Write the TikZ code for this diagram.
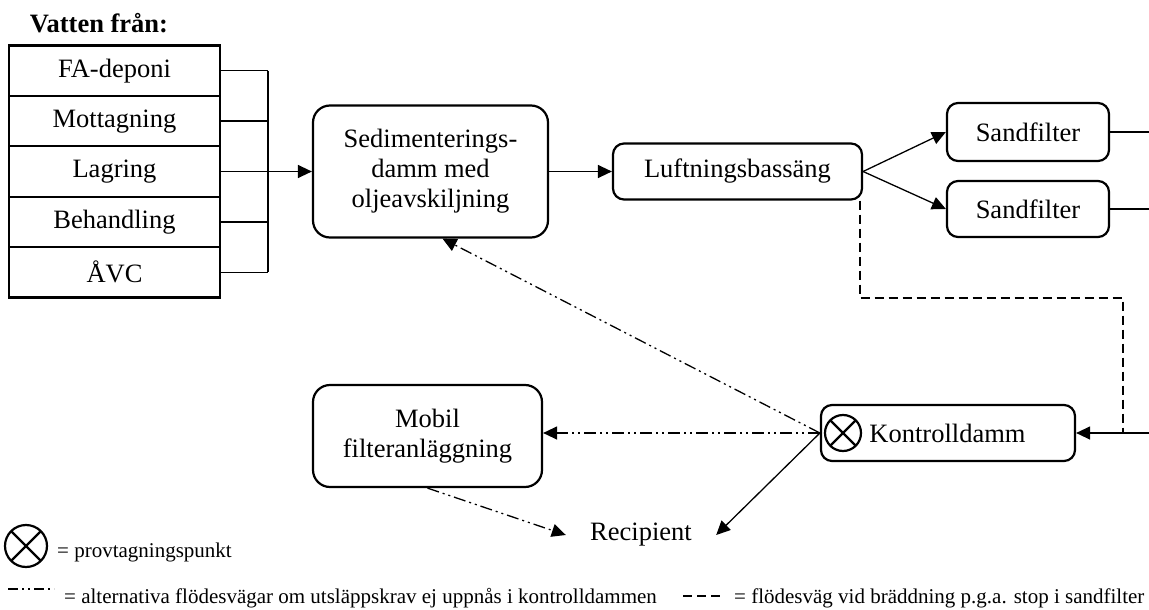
\documentclass[tikz,border=0pt]{standalone}
\usepackage{fontspec}
\setmainfont{Liberation Serif}
\usetikzlibrary{arrows.meta}
\newcommand\mainsize{\fontsize{26.5}{30}\selectfont}
\newcommand\legsize{\fontsize{21}{25}\selectfont}
\tikzset{
  src/.style={draw, line width=2.2pt, inner sep=0pt, minimum width=211pt,
    minimum height=50.4pt, font=\mainsize},
  unit/.style={draw, line width=2.2pt, rounded corners=#1, inner sep=0pt,
    align=center, font=\mainsize},
  unit/.default=11pt,
  label/.style={inner sep=0pt, font=\mainsize},
  legend/.style={inner sep=0pt, font=\legsize},
  pipe/.style={line width=1.3pt},
  flow/.style={pipe, -{Triangle[length=14pt,width=13pt]}},
  altflow/.style={flow, dash pattern=on 12pt off 4pt on 2pt off 4pt on 2pt off 4pt},
  altline/.style={pipe, dash pattern=on 10pt off 4pt on 2pt off 4pt on 2pt off 4pt},
  overflow/.style={pipe, dash pattern=on 9pt off 5pt},
  sample/.style={circle, draw, line width=2.2pt, inner sep=0pt, minimum size=#1,
    path picture={\draw[line width=2.2pt]
      (path picture bounding box.north west) -- (path picture bounding box.south east)
      (path picture bounding box.north east) -- (path picture bounding box.south west);}},
  sample/.default=36pt
}
\begin{document}
\begin{tikzpicture}[x=1pt, y=-1pt]
\useasboundingbox (0,0) rectangle (1149,610);

% sources
\node[label, font=\mainsize\bfseries, anchor=base] (title) at (99,33) {Vatten från:};
\node[src] (s1) at (114.5,70.7)  {FA-deponi};
\node[src] (s2) at (114.5,121.1) {Mottagning};
\node[src] (s3) at (114.5,171.5) {Lagring};
\node[src] (s4) at (114.5,221.9) {Behandling};
\node[src] (s5) at (114.5,272.3) {ÅVC};
\coordinate (bus) at (268,0);

% treatment chain
\node[unit=17pt, minimum width=235pt, minimum height=132pt] (sed) at (430.5,171.5)
  {Sedimenterings-\\damm med\\oljeavskiljning};
\node[unit, minimum width=249pt, minimum height=56pt] (luft) at (737.5,171.5) {Luftningsbassäng};
\node[unit, minimum width=162pt, minimum height=58pt] (sf1) at (1028,132) {Sandfilter};
\node[unit, minimum width=162pt, minimum height=56pt] (sf2) at (1028,209) {Sandfilter};
\coordinate (sf1out) at (1149,132);
\coordinate (sf2out) at (1149,209);
\coordinate (kdin) at (1149,433);
\coordinate (ovcorner) at (1123,298);
\coordinate (ovjoin) at (1123,433);

\node[unit, minimum width=254pt, minimum height=56pt] (kd) at (948,433) {};
\node[sample] (kdx) at (843,433) {};
\node[label] (kdtext) at (947.5,433) {Kontrolldamm};

\node[unit=17pt, minimum width=229pt, minimum height=102pt] (mob) at (427.5,436)
  {Mobil\\filteranläggning};
\node[label, minimum width=150pt, minimum height=22pt] (rec) at (641,535) {Recipient};

% source collector
\foreach \s in {s1,s2,s3,s4,s5}
  \draw[pipe] (\s.east) -- (\s.east -| bus);
\draw[pipe] (s1.east -| bus) -- (s5.east -| bus);
\draw[flow] (s3.east) -- (sed.west);

% main flow
\draw[flow] (sed.east) -- (luft.west);
\draw[flow] (luft.east) -- (sf1.west);
\draw[flow] (luft.east) -- (sf2.west);
\draw[pipe] (sf1.east) -- (sf1out);
\draw[pipe] (sf2.east) -- (sf2out);
\draw[flow] (kdin) -- (kd.east);
\draw[overflow] ([xshift=-3pt]luft.south east) |- (ovcorner) -- (ovjoin);
\draw[flow] (kd.west) -- (rec.east);

% alternative routes
\draw[altflow] (kd.west) -- ([xshift=12pt]sed.south);
\draw[altflow] (kd.west) -- (kd.west -| mob.east);
\draw[altflow] (mob.south) -- (rec.west);

% legend
\node[sample=42pt] (legx) at (26,546) {};
\node[legend, anchor=base west] (legxt) at (57,557) {= provtagningspunkt};
\coordinate (la1) at (8,589);
\coordinate (la2) at (54,589);
\draw[altline] (la1) -- (la2);
\node[legend, anchor=base west] (legat) at (64,603)
  {= alternativa flödesvägar om utsläppskrav ej uppnås i kontrolldammen};
\coordinate (lo1) at (683,596);
\coordinate (lo2) at (722,596);
\draw[overflow] (lo1) -- (lo2);
\node[legend, anchor=base west] (legot) at (734,603)
  {= flödesväg vid bräddning p.g.a. stop i sandfilter};
\end{tikzpicture}
\end{document}
